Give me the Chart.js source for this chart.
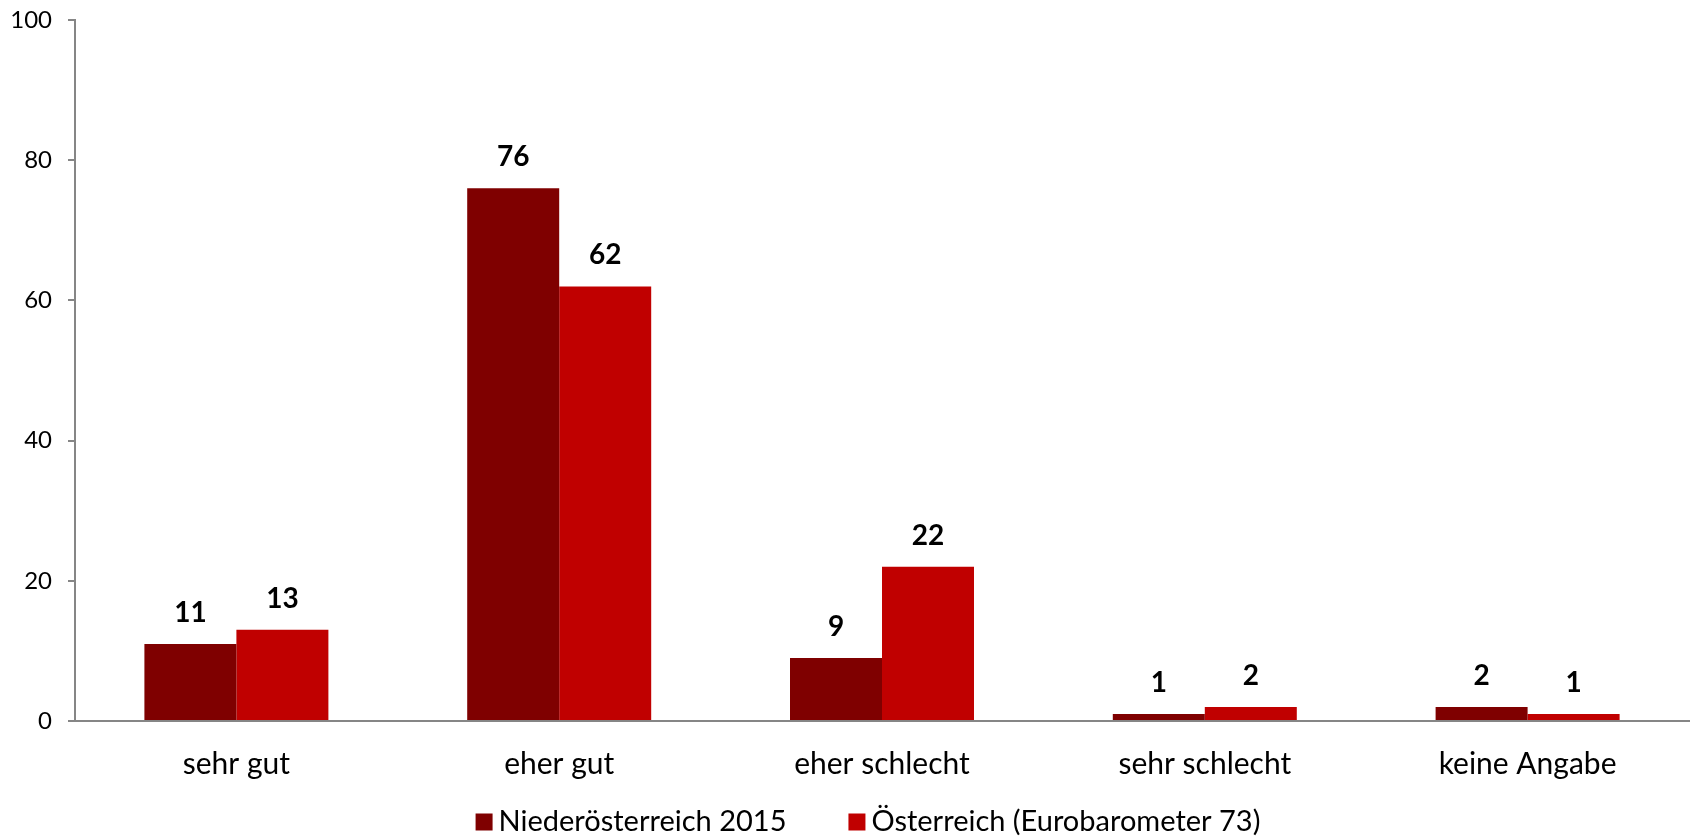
<!DOCTYPE html>
<html>
<head>
<meta charset="utf-8">
<script src="https://cdn.jsdelivr.net/npm/chart.js@4/dist/chart.umd.min.js"></script>
<style>
  html, body { margin: 0; padding: 0; background: #fff; overflow: hidden; }
  #wrap { width: 1692px; height: 838px; }
</style>
</head>
<body>
<div id="wrap"><canvas id="chart"></canvas></div>
<script>
const categories = ["sehr gut", "eher gut", "eher schlecht", "sehr schlecht", "keine Angabe"];
const seriesNames = ["Niederösterreich 2015", "Österreich (Eurobarometer 73)"];
const noe2015 = [11, 76, 9, 1, 2];
const oesterreich = [13, 62, 22, 2, 1];
const yTicks = [0, 20, 40, 60, 80, 100];

const FONT = "Lato, 'Open Sans', sans-serif";
const AXIS_GRAY = "#868686";
const colors = ["#7F0000", "#C00000"];

// draws the bold value above each bar
const valueLabels = {
  id: "valueLabels",
  afterDatasetsDraw(chart) {
    const ctx = chart.ctx;
    ctx.save();
    ctx.font = "bold 28px " + FONT;
    ctx.fillStyle = "#000";
    ctx.textAlign = "center";
    ctx.textBaseline = "middle";
    chart.data.datasets.forEach((ds, i) => {
      chart.getDatasetMeta(i).data.forEach((bar, j) => {
        ctx.fillText(ds.data[j], bar.x, bar.y - 31);
      });
    });
    ctx.restore();
  }
};

// simple legend at the bottom, wider gap between the items than the built-in one
const bottomLegend = {
  id: "bottomLegend",
  afterDraw(chart) {
    const ctx = chart.ctx;
    ctx.save();
    ctx.font = "29px " + FONT;
    ctx.textBaseline = "middle";
    const box = 17, gapText = 6, gapItem = 62;
    const widths = chart.data.datasets.map(ds => ctx.measureText(ds.label).width);
    let total = 0;
    widths.forEach((w, i) => { total += box + gapText + w + (i ? gapItem : 0); });
    let x = chart.width / 2 + 22 - total / 2;
    const y = 822;
    chart.data.datasets.forEach((ds, i) => {
      ctx.fillStyle = ds.backgroundColor;
      ctx.fillRect(x, y - box / 2, box, box);
      ctx.fillStyle = "#000";
      ctx.fillText(ds.label, x + box + gapText, y);
      x += box + gapText + widths[i] + gapItem;
    });
    ctx.restore();
  }
};

const ctx = document.getElementById("chart").getContext("2d");
new Chart(ctx, {
  type: "bar",
  data: {
    labels: categories,
    datasets: [
      { label: seriesNames[0], data: noe2015, backgroundColor: colors[0] },
      { label: seriesNames[1], data: oesterreich, backgroundColor: colors[1] }
    ]
  },
  options: {
    responsive: true,
    maintainAspectRatio: false,
    animation: false,
    categoryPercentage: 0.57,
    barPercentage: 1.0,
    layout: { padding: { top: 20, right: 3, left: 0, bottom: 41 } },
    plugins: {
      tooltip: { enabled: false },
      legend: { display: false }
    },
    scales: {
      x: {
        grid: { display: false },
        border: { display: true, color: AXIS_GRAY, width: 2 },
        ticks: { color: "#000", font: { family: FONT, size: 30 }, padding: 17 },
        afterFit(scale) {
          scale.height = 76;
          scale.paddingLeft = 0;
          scale.paddingRight = 0;
        }
      },
      y: {
        min: 0,
        max: 100,
        afterBuildTicks(scale) { scale.ticks = yTicks.map(v => ({ value: v })); },
        grid: { drawOnChartArea: false, drawTicks: true, tickLength: 7, color: AXIS_GRAY, lineWidth: 2 },
        border: { display: true, color: AXIS_GRAY, width: 2 },
        ticks: { color: "#000", font: { family: FONT, size: 24 }, padding: 16 },
        afterFit(scale) {
          scale.width = 75;
          scale.paddingTop = 0;
          scale.paddingBottom = 0;
        }
      }
    }
  },
  plugins: [valueLabels, bottomLegend]
});
</script>
</body>
</html>
